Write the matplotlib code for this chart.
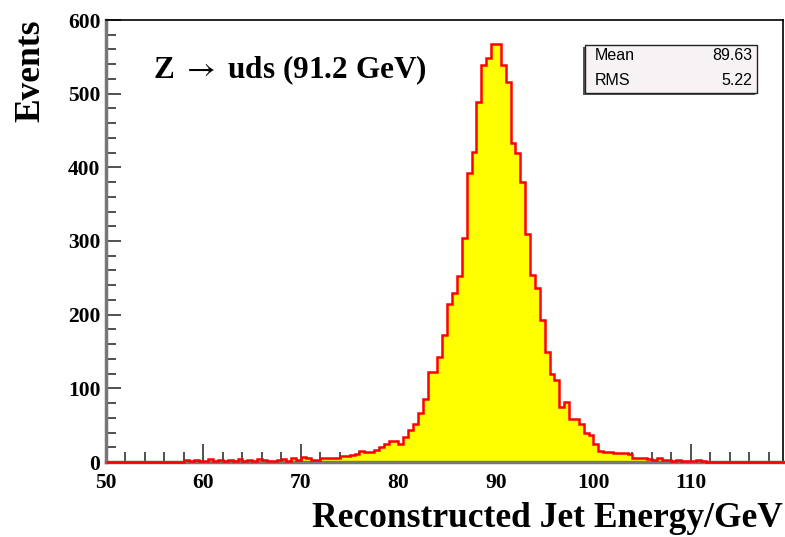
import numpy as np
import matplotlib
matplotlib.use("Agg")
import matplotlib.pyplot as plt
from matplotlib.patches import Rectangle

plt.rcParams["mathtext.fontset"] = "stix"

# ---- data (0.5 GeV bins from 50 to 120) ----
bin_lo = 50.0
bin_hi = 120.0
counts_50_58 = [0] * 16
counts_58_70 = [3, 2, 3, 1, 2, 4, 1, 3, 2, 3, 1, 4, 2, 3, 1, 4, 3, 2, 1, 3, 4, 2, 5, 3]
counts_70_80 = [7, 5, 3, 3, 5, 6, 6, 5, 8, 8, 10, 11, 15, 14, 13, 16, 21, 24, 29, 28]
counts_80_90 = [25, 34, 44, 52, 66, 86, 122, 122, 143, 172, 215, 229, 252, 304, 392, 421, 489, 539, 548, 568]
counts_90_100 = [568, 539, 516, 433, 419, 380, 310, 254, 236, 193, 150, 120, 111, 75, 82, 59, 58, 52, 39, 36]
counts_100_110 = [24, 15, 14, 14, 12, 12, 12, 11, 5, 5, 5, 4, 3, 6, 3, 3, 2, 3, 1, 2]
counts_110_120 = [1, 3, 1, 0, 0, 0, 0, 0, 0, 0, 0, 0, 0, 0, 0, 0, 0, 0, 0, 0]

stats_labels = ["Mean", "RMS"]
stats_values = ["89.63", "5.22"]
title_text = "Z $\\rightarrow$ uds (91.2 GeV)"
x_label = "Reconstructed Jet Energy/GeV"
y_label = "Events"
x_ticks = [50, 60, 70, 80, 90, 100, 110]
y_ticks = [0, 100, 200, 300, 400, 500, 600]

counts = np.array(counts_50_58 + counts_58_70 + counts_70_80 + counts_80_90 +
                  counts_90_100 + counts_100_110 + counts_110_120, dtype=float)
edges = np.linspace(bin_lo, bin_hi, len(counts) + 1)

serif = ["Liberation Serif", "DejaVu Serif"]

fig = plt.figure(figsize=(7.85, 5.37), dpi=100)
ax = fig.add_axes([106 / 785, 75 / 537, 677 / 785, 442 / 537])

ax.stairs(counts, edges, fill=True, color="#ffff00", zorder=2)
ax.stairs(counts, edges, baseline=0, color="#ff0000", lw=1.8, zorder=3, clip_on=False)

ax.set_xlim(50, 119.44)
ax.set_ylim(0, 600)

ax.set_xticks(x_ticks)
ax.set_xticks(np.arange(50, 120, 2), minor=True)
ax.set_yticks(y_ticks)
ax.set_yticks(np.arange(0, 601, 20), minor=True)
ax.tick_params(axis="both", which="both", direction="in", color="#333333", width=1.2)
ax.tick_params(axis="x", which="major", length=13)
ax.tick_params(axis="x", which="minor", length=7)
ax.tick_params(axis="y", which="major", length=11)
ax.tick_params(axis="y", which="minor", length=7)
ax.tick_params(axis="x", pad=8)
ax.tick_params(axis="y", pad=4)

for lab in ax.get_xticklabels() + ax.get_yticklabels():
    lab.set_fontfamily(serif)
    lab.set_fontweight("bold")
    lab.set_fontsize(15.5)

ax.spines["left"].set_color("#777777")
ax.spines["left"].set_linewidth(2.5)
ax.spines["bottom"].set_color("#777777")
ax.spines["bottom"].set_linewidth(2.5)
ax.spines["top"].set_color("black")
ax.spines["top"].set_linewidth(1.2)
ax.spines["right"].set_color("black")
ax.spines["right"].set_linewidth(1.2)

ax.set_xlabel(x_label, fontfamily=serif, fontweight="bold", fontsize=25.5)
ax.xaxis.set_label_coords(1.0, -0.09)
ax.xaxis.label.set_horizontalalignment("right")
ax.set_ylabel(y_label, fontfamily=serif, fontweight="bold", fontsize=25.5)
ax.yaxis.set_label_coords(-0.087, 1.0)
ax.yaxis.label.set_verticalalignment("bottom")
ax.yaxis.label.set_horizontalalignment("right")

fig.text(153 / 785, 1 - 70 / 537, title_text, fontfamily=serif, fontweight="bold",
         fontsize=22.5, ha="left", va="center")

# stats box
bx0, by0, bx1, by1 = 585, 45, 757, 93
fig.patches.append(Rectangle((bx0 / 785 - 0.002, 1 - (by1 + 2) / 537), (bx1 - bx0) / 785, (by1 - by0) / 537,
                             transform=fig.transFigure, facecolor="#555555", edgecolor="none", zorder=4))
fig.patches.append(Rectangle((bx0 / 785, 1 - by1 / 537), (bx1 - bx0) / 785, (by1 - by0) / 537,
                             transform=fig.transFigure, facecolor="#f7f3f5", edgecolor="#222222",
                             lw=1.0, zorder=5))
row_y = [56, 80]
for lab, val, yy in zip(stats_labels, stats_values, row_y):
    fig.text(595 / 785, 1 - yy / 537, lab, fontfamily="Liberation Sans", fontsize=11.5,
             ha="left", va="center", zorder=6)
    fig.text(752 / 785, 1 - yy / 537, val, fontfamily="Liberation Sans", fontsize=11.5,
             ha="right", va="center", zorder=6)

fig.savefig("out.png", dpi=100)
